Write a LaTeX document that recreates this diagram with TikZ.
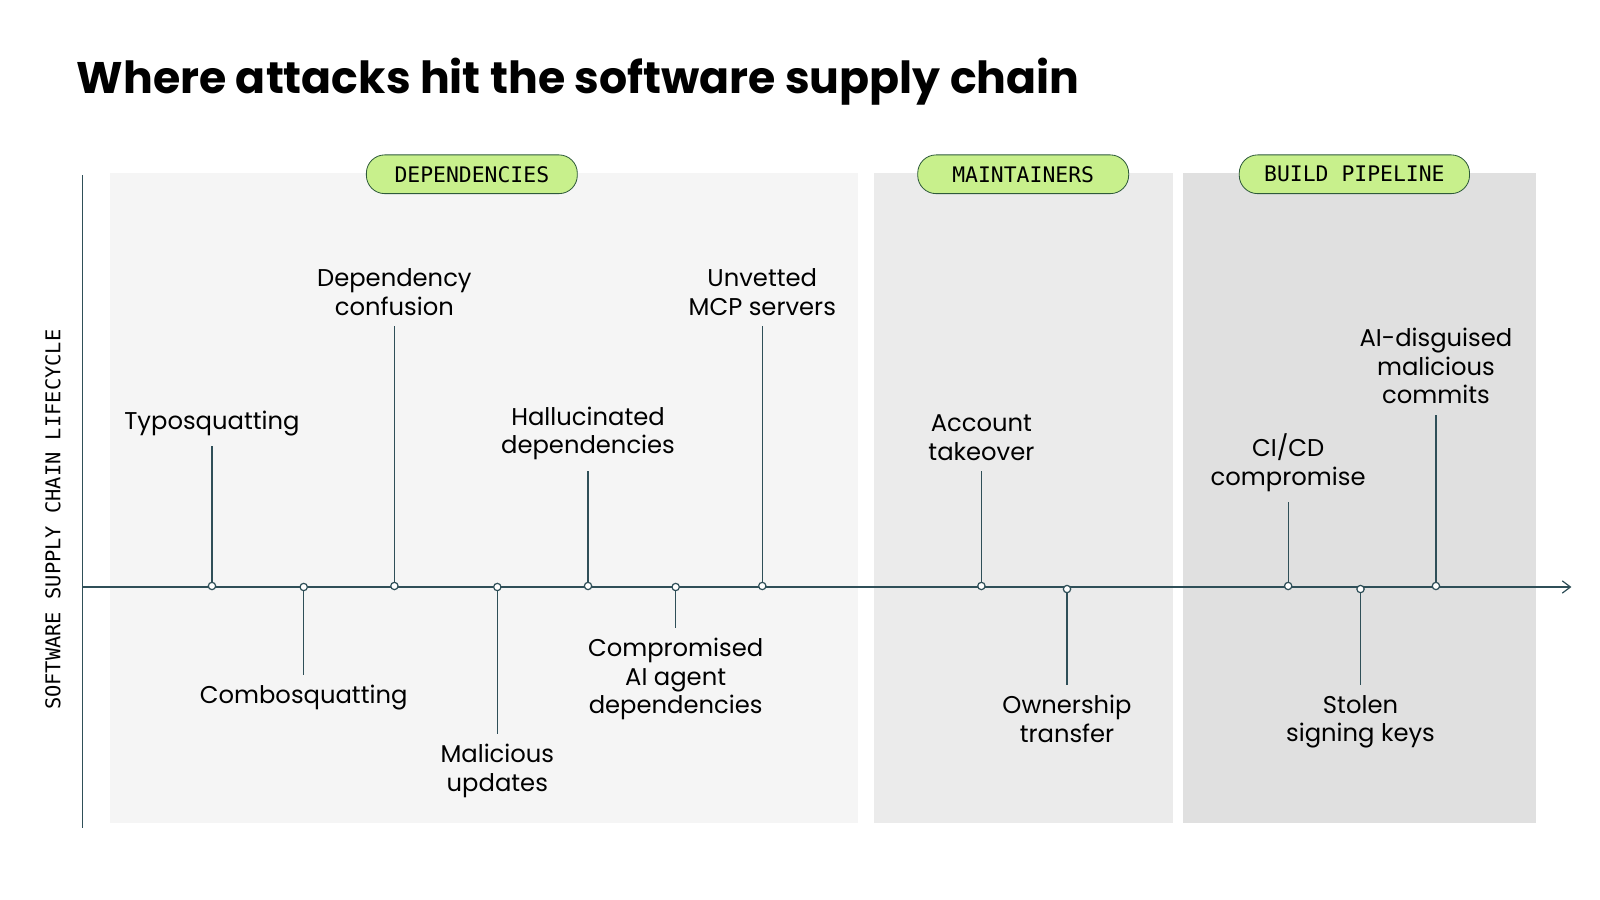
\documentclass[tikz,border=0pt]{standalone}
\usepackage{fontspec}
\setmainfont{Poppins}
\newfontfamily\monofont{DejaVu Sans Mono}
\usetikzlibrary{positioning,arrows.meta}
\definecolor{axisc}{HTML}{2F4F58}
\definecolor{pillg}{HTML}{C8F08C}
\definecolor{pilld}{HTML}{2E5A3A}
\definecolor{bandA}{HTML}{F5F5F5}
\definecolor{bandB}{HTML}{EBEBEB}
\definecolor{bandC}{HTML}{E0E0E0}
\tikzset{
  pill/.style={draw=pilld,fill=pillg,rounded corners=9pt,minimum height=19pt,
    inner xsep=0pt,font=\monofont\fontsize{10.5}{12}\selectfont},
  lbl/.style={align=center,font=\fontsize{11.9}{14}\selectfont,inner sep=0pt},
  dot/.style={circle,draw=axisc,fill=white,line width=0.6pt,minimum size=3.6pt,inner sep=0pt},
  tick/.style={axisc,line width=0.6pt}
}
\begin{document}
\begin{tikzpicture}[x=0.5pt,y=-0.5pt]
\useasboundingbox (0,0) rectangle (1570,883);
% bands
\fill[bandA] (108,170) rectangle (842,808);
\fill[bandB] (858,170) rectangle (1151,808);
\fill[bandC] (1161,170) rectangle (1507,808);
% title
\node[anchor=west,font=\bfseries\fontsize{21.7}{26}\selectfont,inner sep=0pt] (title) at (75,80)
  {Where attacks hit the software supply chain};
% axes
\coordinate (o) at (81,576);
\coordinate (top) at (81,172);
\coordinate (bot) at (81,812);
\coordinate (tip) at (1542,576);
\draw[tick] (top) -- (bot);
\draw[tick,-{Straight Barb[length=4pt,width=6pt]}] (o) -- (tip);
\node[rotate=90,font=\monofont\fontsize{10}{12}\selectfont] (life) at (52,510)
  {SOFTWARE SUPPLY CHAIN LIFECYCLE};
% stage pills
\node[pill,minimum width=103.5pt] (deps) at (463,171) {DEPENDENCIES};
\node[pill,minimum width=103.5pt] (maint) at (1004,171) {MAINTAINERS};
\node[pill,minimum width=113pt] (build) at (1329,171) {BUILD PIPELINE};
% attacks: x / y / tick end / side / text
\foreach \n/\x/\y/\e/\s/\t in {
  a/208/575/438/above/{Typosquatting},
  b/298/576/662/below/{Combosquatting},
  c/387/575/320/above/{Dependency\\confusion},
  d/488/576/720/below/{Malicious\\updates},
  e/577/575/462/above/{Hallucinated\\dependencies},
  f/663/576/616/below/{Compromised\\AI agent\\dependencies},
  g/748/575/320/above/{Unvetted\\MCP servers},
  h/963/575/462/above/{Account\\takeover},
  i/1047/578/672/below/{Ownership\\transfer},
  j/1264/575/493/above/{CI/CD\\compromise},
  k/1335/578/672/below/{Stolen\\signing keys},
  l/1409/575/407/above/{AI-disguised\\malicious\\commits}} {
  \coordinate (e\n) at (\x,\e);
  \draw[tick] (\x,\y) -- (e\n);
  \node[dot] (d\n) at (\x,\y) {};
  \node[lbl,\s=5pt of e\n] (l\n) {\t};
}
\end{tikzpicture}
\end{document}
